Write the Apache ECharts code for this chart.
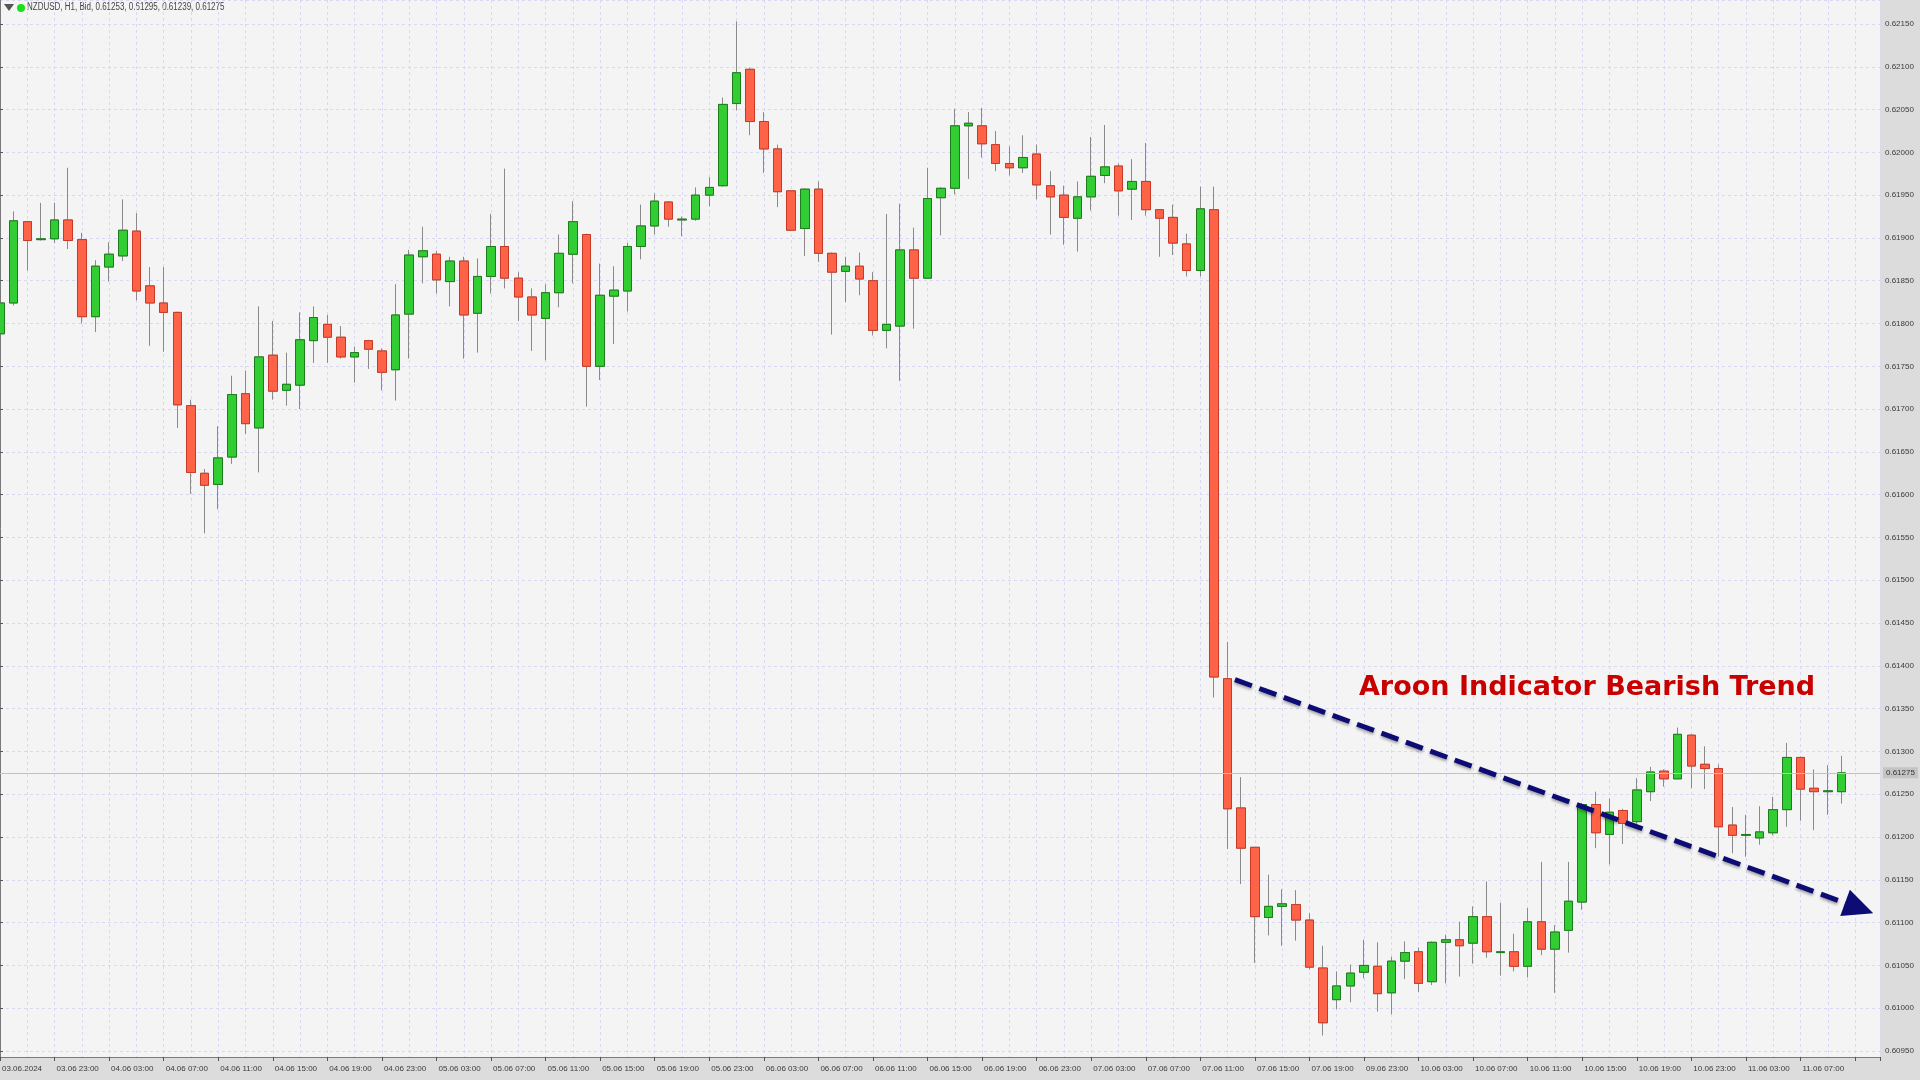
<!DOCTYPE html>
<html>
<head>
<meta charset="utf-8">
<style>
  html, body { margin: 0; padding: 0; background: #dcdcdc; }
  #chart { width: 1920px; height: 1080px; }
</style>
<script src="https://cdn.jsdelivr.net/npm/echarts@6/dist/echarts.min.js"></script>
</head>
<body>
<div id="chart"></div>
<script>
// ---- Data (NZDUSD H1) ----
const SYMBOL = 'NZDUSD';
const TIMEFRAME = 'H1';
const OPEN = [
  0.61788,0.61824,0.61919,0.61898,0.61899,0.61921,0.61898,0.61808,0.61866,0.61879,
  0.61908,0.61844,0.61824,0.61813,0.61704,0.61625,0.61612,0.61644,0.61718,0.61678,
  0.61763,0.61722,0.61728,0.61780,0.61799,0.61784,0.61761,0.61780,0.61768,0.61746,
  0.61811,0.61878,0.61881,0.61849,0.61873,0.61812,0.61855,0.61890,0.61853,0.61831,
  0.61806,0.61836,0.61881,0.61904,0.61750,0.61832,0.61838,0.61890,0.61914,0.61942,
  0.61921,0.61922,0.61950,0.61961,0.62057,0.62097,0.62036,0.62004,0.61955,0.61911,
  0.61957,0.61882,0.61861,0.61867,0.61850,0.61792,0.61797,0.61886,0.61853,0.61947,
  0.61958,0.62031,0.62031,0.62009,0.61987,0.61982,0.61998,0.61961,0.61950,0.61923,
  0.61948,0.61973,0.61984,0.61957,0.61966,0.61933,0.61924,0.61893,0.61862,0.61933,
  0.61385,0.61234,0.61188,0.61106,0.61119,0.61121,0.61103,0.61047,0.61010,0.61026,
  0.61042,0.61049,0.61018,0.61055,0.61066,0.61031,0.61077,0.61080,0.61076,0.61107,
  0.61065,0.61066,0.61049,0.61101,0.61069,0.61091,0.61124,0.61238,0.61203,0.61231,
  0.61218,0.61253,0.61277,0.61268,0.61319,0.61285,0.61280,0.61214,0.61202,0.61199,
  0.61205,0.61232,0.61293,0.61257,0.61253,0.61253
];
const HIGH = [
  0.61826,0.61931,0.61920,0.61941,0.61941,0.61982,0.61906,0.61874,0.61895,0.61945,
  0.61929,0.61866,0.61866,0.61814,0.61711,0.61630,0.61680,0.61739,0.61745,0.61820,
  0.61803,0.61766,0.61813,0.61820,0.61810,0.61797,0.61773,0.61781,0.61771,0.61846,
  0.61886,0.61913,0.61885,0.61878,0.61878,0.61876,0.61928,0.61981,0.61860,0.61841,
  0.61846,0.61904,0.61943,0.61905,0.61870,0.61867,0.61894,0.61939,0.61952,0.61943,
  0.61925,0.61959,0.61971,0.62064,0.62153,0.62099,0.62047,0.62009,0.61956,0.61958,
  0.61966,0.61883,0.61878,0.61883,0.61860,0.61928,0.61940,0.61912,0.61982,0.61959,
  0.62051,0.62047,0.62052,0.62025,0.62007,0.62020,0.62009,0.61978,0.61961,0.61966,
  0.62018,0.62032,0.61987,0.61992,0.62011,0.61933,0.61939,0.61905,0.61960,0.61960,
  0.61428,0.61270,0.61188,0.61156,0.61139,0.61138,0.61111,0.61073,0.61043,0.61051,
  0.61080,0.61077,0.61060,0.61078,0.61071,0.61078,0.61086,0.61101,0.61119,0.61148,
  0.61123,0.61087,0.61117,0.61171,0.61097,0.61171,0.61240,0.61253,0.61245,0.61233,
  0.61269,0.61282,0.61279,0.61328,0.61320,0.61306,0.61285,0.61235,0.61226,0.61236,
  0.61247,0.61310,0.61294,0.61279,0.61284,0.61295
];
const LOW = [
  0.61772,0.61821,0.61862,0.61897,0.61894,0.61887,0.61800,0.61790,0.61849,0.61873,
  0.61827,0.61774,0.61767,0.61678,0.61601,0.61555,0.61583,0.61636,0.61671,0.61626,
  0.61711,0.61704,0.61700,0.61754,0.61754,0.61759,0.61731,0.61747,0.61722,0.61710,
  0.61759,0.61847,0.61835,0.61820,0.61759,0.61766,0.61835,0.61841,0.61803,0.61768,
  0.61757,0.61819,0.61847,0.61703,0.61734,0.61776,0.61814,0.61875,0.61904,0.61913,
  0.61902,0.61920,0.61937,0.61960,0.62049,0.62020,0.61976,0.61936,0.61908,0.61879,
  0.61872,0.61787,0.61825,0.61833,0.61786,0.61771,0.61733,0.61794,0.61852,0.61903,
  0.61951,0.61969,0.61994,0.61978,0.61973,0.61976,0.61945,0.61904,0.61892,0.61884,
  0.61932,0.61964,0.61926,0.61921,0.61926,0.61878,0.61880,0.61855,0.61855,0.61363,
  0.61186,0.61145,0.61053,0.61085,0.61073,0.61079,0.61045,0.60968,0.60999,0.61007,
  0.61035,0.60996,0.60993,0.61034,0.61019,0.61027,0.61029,0.61037,0.61052,0.61059,
  0.61038,0.61043,0.61036,0.61062,0.61018,0.61065,0.61115,0.61187,0.61168,0.61192,
  0.61215,0.61242,0.61259,0.61268,0.61257,0.61256,0.61177,0.61181,0.61177,0.61191,
  0.61202,0.61212,0.61219,0.61208,0.61226,0.61239
];
const CLOSE = [
  0.61824,0.61920,0.61897,0.61899,0.61921,0.61897,0.61808,0.61867,0.61881,0.61909,
  0.61838,0.61824,0.61813,0.61705,0.61626,0.61611,0.61643,0.61717,0.61683,0.61761,
  0.61721,0.61729,0.61781,0.61807,0.61784,0.61761,0.61766,0.61770,0.61743,0.61810,
  0.61880,0.61885,0.61851,0.61873,0.61810,0.61855,0.61890,0.61853,0.61831,0.61810,
  0.61836,0.61882,0.61919,0.61750,0.61833,0.61839,0.61890,0.61914,0.61943,0.61922,
  0.61922,0.61950,0.61959,0.62056,0.62093,0.62036,0.62004,0.61954,0.61909,0.61957,
  0.61882,0.61860,0.61867,0.61852,0.61792,0.61799,0.61886,0.61853,0.61946,0.61958,
  0.62031,0.62034,0.62010,0.61987,0.61982,0.61994,0.61962,0.61948,0.61924,0.61948,
  0.61972,0.61983,0.61955,0.61966,0.61933,0.61923,0.61894,0.61862,0.61934,0.61387,
  0.61233,0.61187,0.61107,0.61119,0.61122,0.61103,0.61048,0.60983,0.61026,0.61041,
  0.61050,0.61017,0.61055,0.61065,0.61029,0.61077,0.61080,0.61073,0.61107,0.61066,
  0.61066,0.61049,0.61101,0.61069,0.61089,0.61125,0.61238,0.61205,0.61229,0.61216,
  0.61255,0.61276,0.61268,0.61320,0.61283,0.61280,0.61212,0.61202,0.61203,0.61206,
  0.61232,0.61293,0.61256,0.61253,0.61254,0.61275
];
// one time label every 4 bars, starting at bar 0
const TIME_LABELS = [
  '03.06.2024','03.06 23:00','04.06 03:00','04.06 07:00','04.06 11:00','04.06 15:00',
  '04.06 19:00','04.06 23:00','05.06 03:00','05.06 07:00','05.06 11:00','05.06 15:00',
  '05.06 19:00','05.06 23:00','06.06 03:00','06.06 07:00','06.06 11:00','06.06 15:00',
  '06.06 19:00','06.06 23:00','07.06 03:00','07.06 07:00','07.06 11:00','07.06 15:00',
  '07.06 19:00','09.06 23:00','10.06 03:00','10.06 07:00','10.06 11:00','10.06 15:00',
  '10.06 19:00','10.06 23:00','11.06 03:00','11.06 07:00'
];
const LABEL_STEP = 4;
const TITLE_TEXT = 'Aroon Indicator Bearish Trend';
// annotation anchors in data space [bar index, price]
const ARROW_START = [90.54, 0.61384];
const ARROW_END = [136.3, 0.61117];
const TITLE_ANCHOR = [99.63, 0.61374];
// visible ranges
const X_MIN = 0, X_MAX = 137.83;
const Y_MIN = 0.60943, Y_MAX = 0.62178;

// ---- Build ----
const n = OPEN.length;
const last = n - 1;
const fullData = OPEN.map((o, i) => [i, o, CLOSE[i], LOW[i], HIGH[i]]);
const bodyData = OPEN.map((o, i) => [i, o, CLOSE[i], Math.min(o, CLOSE[i]), Math.max(o, CLOSE[i])]);
const LAST_PRICE = CLOSE[last];
const headerText = `${SYMBOL}, ${TIMEFRAME}, Bid, ${OPEN[last].toFixed(5)}, ${HIGH[last].toFixed(5)}, ${LOW[last].toFixed(5)}, ${CLOSE[last].toFixed(5)}`;

const SMALL_FAMILY = '"Liberation Sans", "Noto Sans", sans-serif';
const BULL = '#32cd32', BEAR = '#ff6347';

const chart = echarts.init(document.getElementById('chart'), null, { renderer: 'canvas' });
chart.setOption({
  animation: false,
  backgroundColor: '#dcdcdc',
  grid: {
    left: 0, right: 40, top: 0, bottom: 23,
    show: true, backgroundColor: '#f4f4f4', borderWidth: 0,
    containLabel: false, outerBoundsMode: 'none'
  },
  xAxis: [{
    type: 'value', min: X_MIN, max: X_MAX, interval: LABEL_STEP,
    position: 'bottom',
    axisLine: { show: true, onZero: false, lineStyle: { color: '#7a7a7a', width: 1 } },
    axisTick: { show: true, length: 4, lineStyle: { color: '#555' } },
    axisLabel: {
      show: true, align: 'left', margin: 8, padding: [0, 0, 0, 2],
      fontSize: 8, fontFamily: SMALL_FAMILY, color: '#3a3a3a',
      showMinLabel: true, showMaxLabel: true,
      formatter: v => {
        const k = Math.round(v);
        if (Math.abs(v - k) > 1e-6 || k % LABEL_STEP !== 0) return '';
        return TIME_LABELS[k / LABEL_STEP] || '';
      }
    },
    splitLine: { show: false }
  }, {
    type: 'value', min: X_MIN, max: X_MAX, interval: 2,
    position: 'top',
    axisLine: { show: false }, axisTick: { show: false }, axisLabel: { show: false },
    splitLine: { show: true, lineStyle: { color: '#d8d8f0', type: [3, 3], width: 1 } }
  }],
  yAxis: {
    type: 'value', position: 'right', min: Y_MIN, max: Y_MAX,
    minInterval: 0.0005, maxInterval: 0.0005, splitNumber: 25,
    axisLine: { show: true, lineStyle: { color: '#7a7a7a', width: 1 } },
    axisTick: { show: true, length: 3, lineStyle: { color: '#555' } },
    axisLabel: {
      show: true, margin: 5, fontSize: 8, fontFamily: SMALL_FAMILY, color: '#3a3a3a',
      showMinLabel: false, showMaxLabel: false,
      formatter: v => v.toFixed(5)
    },
    splitLine: { show: true, lineStyle: { color: '#d8d8f0', type: [3, 3], width: 1 } }
  },
  series: [{
    name: 'wicks',
    type: 'candlestick',
    xAxisIndex: 0,
    data: fullData,
    encode: { x: 0, y: [1, 2, 3, 4] },
    barWidth: 9,
    z: 2,
    silent: true,
    itemStyle: { color: BULL, color0: BEAR, borderColor: '#8a8a8a', borderColor0: '#8a8a8a', borderWidth: 1 },
    markLine: {
      silent: true, symbol: 'none', animation: false,
      lineStyle: { color: '#c2c2c2', type: 'solid', width: 1 },
      label: {
        show: true, position: 'end', distance: 3,
        formatter: () => LAST_PRICE.toFixed(5),
        backgroundColor: '#c4c4c4', color: '#333', padding: [2, 3, 1, 3],
        fontSize: 8, fontFamily: SMALL_FAMILY
      },
      data: [[
        { coord: [X_MIN, LAST_PRICE] },
        { coord: [X_MAX, LAST_PRICE] }
      ]]
    }
  }, {
    name: 'bodies',
    type: 'candlestick',
    xAxisIndex: 0,
    data: bodyData,
    encode: { x: 0, y: [1, 2, 3, 4] },
    barWidth: 9,
    z: 3,
    silent: true,
    itemStyle: { color: BULL, color0: BEAR, borderColor: '#1b7d1b', borderColor0: '#c83a28', borderWidth: 1 },
    markLine: {
      silent: true, animation: false, z: 10,
      symbol: ['none', 'triangle'],
      lineStyle: {
        color: '#0c0c74', width: 5, type: [18, 8], cap: 'butt',
        shadowColor: 'rgba(0,0,0,0.35)', shadowBlur: 3, shadowOffsetY: 2
      },
      label: { show: false },
      data: [[
        { coord: ARROW_START, symbol: 'none' },
        { coord: ARROW_END, symbol: 'triangle', symbolSize: [28, 30] }
      ]]
    },
    markPoint: {
      silent: true, animation: false,
      symbol: 'circle', symbolSize: 0,
      data: [{ coord: TITLE_ANCHOR }],
      label: {
        show: true, position: 'right', distance: 0,
        formatter: TITLE_TEXT,
        color: '#c80000', fontSize: 27, fontWeight: 'bold',
        fontFamily: '"DejaVu Sans", Verdana, sans-serif'
      }
    }
  }],
  graphic: [
    { type: 'polygon', shape: { points: [[4, 4], [14, 4], [9, 11]] }, style: { fill: '#555' }, silent: true },
    { type: 'circle', shape: { cx: 21, cy: 8, r: 4 }, style: { fill: '#19e019' }, silent: true },
    {
      type: 'text', x: 27, y: 2, scaleX: 0.8, scaleY: 1, silent: true,
      style: { text: headerText, fill: '#444', font: '10px "Liberation Sans", "Noto Sans", sans-serif' }
    }
  ]
});
</script>
</body>
</html>
